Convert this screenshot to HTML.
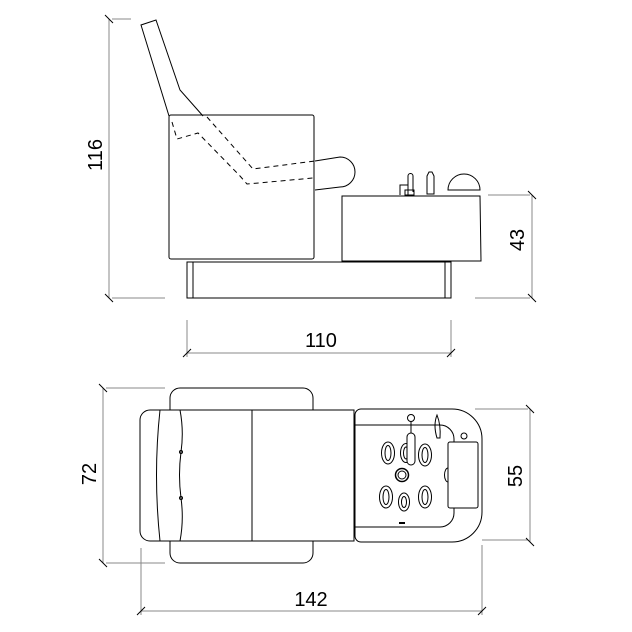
<!DOCTYPE html>
<html><head><meta charset="utf-8"><style>
html,body{margin:0;padding:0;background:#fff}
svg{display:block}
text{font-family:"Liberation Sans",sans-serif;font-size:20px;fill:#000}
</style></head><body>
<svg width="632" height="632" viewBox="0 0 632 632" xmlns="http://www.w3.org/2000/svg">
<g fill="none" stroke="#000" stroke-width="1">
<g stroke="#888">
<line x1="109" y1="19" x2="109" y2="298"/>
<line x1="112" y1="19" x2="131" y2="19"/>
<line x1="112" y1="298" x2="165" y2="298"/>
<line x1="532" y1="195" x2="532" y2="298"/>
<line x1="488" y1="195" x2="530" y2="195"/>
<line x1="475" y1="298" x2="530" y2="298"/>
<line x1="187" y1="353" x2="451" y2="353"/>
<line x1="187" y1="320" x2="187" y2="357"/>
<line x1="451" y1="320" x2="451" y2="357"/>
<line x1="103" y1="388" x2="103" y2="563"/>
<line x1="106" y1="388" x2="165" y2="388"/>
<line x1="106" y1="563" x2="165" y2="563"/>
<line x1="530" y1="409" x2="530" y2="542"/>
<line x1="475" y1="409" x2="528" y2="409"/>
<line x1="482" y1="540" x2="528" y2="540"/>
<line x1="141" y1="611" x2="482" y2="611"/>
<line x1="141" y1="548" x2="141" y2="615"/>
<line x1="482" y1="545" x2="482" y2="615"/>
</g>
<g stroke="#000">
<line x1="105" y1="15" x2="113" y2="23"/><line x1="105" y1="294" x2="113" y2="302"/>
<line x1="528" y1="191" x2="536" y2="199"/><line x1="528" y1="294" x2="536" y2="302"/>
<line x1="183" y1="357" x2="191" y2="349"/><line x1="447" y1="357" x2="455" y2="349"/>
<line x1="99" y1="384" x2="107" y2="392"/><line x1="99" y1="559" x2="107" y2="567"/>
<line x1="526" y1="405" x2="534" y2="413"/><line x1="526" y1="538" x2="534" y2="546"/>
<line x1="137" y1="615" x2="145" y2="607"/><line x1="478" y1="615" x2="486" y2="607"/>
</g>
<path d="M169 116 L141 25 L156 20 L180 90 L203 116"/>
<rect x="169" y="115" width="145" height="144" rx="2"/>
<g stroke-dasharray="5,4">
<path d="M172 122 L177 139 L198 133 L240 176 L247 184 L313 178"/>
<path d="M207 117 L253 169 L315 161"/>
</g>
<path d="M315 161 L340 157 A15 15 0 0 1 340 187 L315 190"/>
<rect x="187" y="262" width="264" height="36"/>
<line x1="193" y1="262" x2="193" y2="298"/><line x1="445" y1="262" x2="445" y2="298"/>
<path d="M342 196 L480 196 L481 261 L342 261 Z"/>
<path d="M400 195 L400 185 L408 185 M408 195 V176 a2.5 2.5 0 0 1 5 0 V192"/>
<rect x="405" y="190" width="9" height="5"/>
<path d="M427 194 V176 l2 -4 h3 l2 4 V194 Z"/>
<path d="M448 190 A16 16 0 0 1 480 190 Z"/>
<path d="M170 410 V398 a10 10 0 0 1 10 -10 H303 a10 10 0 0 1 10 10 V410"/>
<path d="M170 541 V553 a10 10 0 0 0 10 10 H303 a10 10 0 0 0 10 -10 V541"/>
<path d="M150 410 H354 V541 H150 a10 10 0 0 1 -10 -10 V420 a10 10 0 0 1 10 -10 Z"/>
<path d="M160 410 Q153 475 160 541"/>
<path d="M180 410 Q184 431 181 452 Q178 475 181 498 Q184 520 180 541"/>
<circle cx="181" cy="452" r="1.5"/><circle cx="181" cy="498" r="1.5"/>
<line x1="252" y1="410" x2="252" y2="541"/>
<path d="M355 415 a6 6 0 0 1 6 -6 H452 a30 30 0 0 1 30 30 V512 a30 30 0 0 1 -30 30 H361 a6 6 0 0 1 -6 -6 Z"/>
<path d="M355 425 H440 a14 14 0 0 1 14 14 V513 a14 14 0 0 1 -14 14 H355"/>
<rect x="448" y="442" width="30" height="66" rx="2" fill="#fff"/>
<path d="M448 468 a3 6 0 0 0 0 14"/>
<circle cx="464" cy="436" r="3"/>
<ellipse cx="388" cy="453" rx="6.5" ry="11"/><ellipse cx="388" cy="453" rx="3" ry="7.5"/>
<ellipse cx="406" cy="453" rx="5.5" ry="9.5"/><ellipse cx="406" cy="453" rx="2.5" ry="6"/>
<ellipse cx="425" cy="455" rx="6.5" ry="11"/><ellipse cx="425" cy="455" rx="3" ry="7.5"/>
<ellipse cx="386" cy="497" rx="6.5" ry="11"/><ellipse cx="386" cy="497" rx="3" ry="7.5"/>
<ellipse cx="404" cy="502" rx="5.5" ry="9"/><ellipse cx="404" cy="502" rx="2.5" ry="5.5"/>
<ellipse cx="425" cy="497" rx="6.5" ry="11"/><ellipse cx="425" cy="497" rx="3" ry="7.5"/>
<circle cx="402" cy="475" r="6.5" stroke-width="1.5"/><circle cx="402" cy="475" r="4"/>
<circle cx="411" cy="418" r="3.5"/><line x1="411" y1="421" x2="411" y2="433"/>
<rect x="407" y="433" width="8" height="32" rx="4" fill="#fff"/>
<path d="M437 438 Q433 425 437 415 Q441 425 440 438 Z"/>
<line x1="399" y1="523" x2="405" y2="523" stroke-width="2"/>
</g>
<text x="321" y="347" text-anchor="middle">110</text>
<text x="311" y="606" text-anchor="middle">142</text>
<text transform="translate(102,155) rotate(-90)" text-anchor="middle">116</text>
<text transform="translate(524,240) rotate(-90)" text-anchor="middle">43</text>
<text transform="translate(96,474) rotate(-90)" text-anchor="middle">72</text>
<text transform="translate(522,476) rotate(-90)" text-anchor="middle">55</text>
</svg>
</body></html>
